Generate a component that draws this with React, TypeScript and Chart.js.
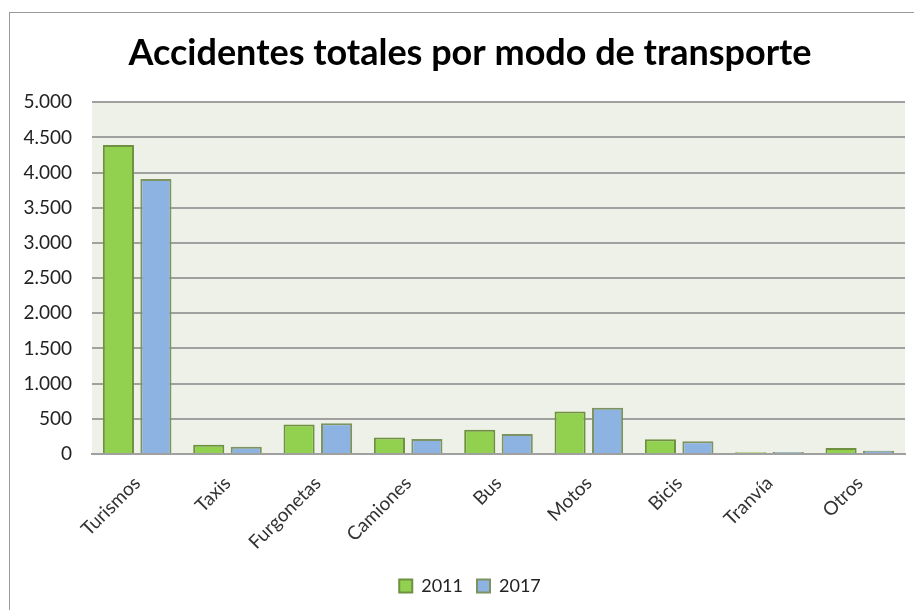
import React, { useEffect, useRef } from "react";
import { Chart, registerables } from "chart.js";

Chart.register(...registerables);

const categories = ["Turismos", "Taxis", "Furgonetas", "Camiones", "Bus", "Motos", "Bicis", "Tranvía", "Otros"];
const series2011 = [4390, 133, 420, 233, 343, 604, 210, 25, 86];
const series2017 = [3910, 104, 437, 214, 286, 657, 181, 28, 47];
const yTicks = [0, 500, 1000, 1500, 2000, 2500, 3000, 3500, 4000, 4500, 5000];

const FONT = "Lato, 'Open Sans', sans-serif";

function fmt(n: number): string {
  if (n < 1000) return String(n);
  const th = Math.floor(n / 1000);
  const rest = String(n % 1000).padStart(3, "0");
  return th + "." + rest;
}

const bgPlugin = {
  id: "plotBg",
  beforeDraw(chart: any) {
    const { ctx, chartArea } = chart;
    if (!chartArea) return;
    ctx.save();
    ctx.fillStyle = "#eef1e8";
    ctx.fillRect(chartArea.left, chartArea.top, chartArea.right - chartArea.left, chartArea.bottom - chartArea.top);
    ctx.restore();
  },
};

export default function App() {
  const ref = useRef<HTMLCanvasElement | null>(null);
  useEffect(() => {
    if (!ref.current) return;
    const chart = new Chart(ref.current, {
      type: "bar",
      data: {
        labels: categories,
        datasets: [
          {
            label: "2011",
            data: series2011,
            backgroundColor: "#92d050",
            borderColor: "#6f913f",
            borderWidth: 2,
            categoryPercentage: 0.83,
            barPercentage: 0.83,
          },
          {
            label: "2017",
            data: series2017,
            backgroundColor: "#8db3e2",
            borderColor: "#7d9460",
            borderWidth: 2,
            categoryPercentage: 0.83,
            barPercentage: 0.83,
          },
        ],
      },
      options: {
        animation: false,
        responsive: false,
        maintainAspectRatio: false,
        layout: { padding: { left: 0, right: 0, top: 0, bottom: 6 } },
        plugins: {
          title: {
            display: true,
            text: "Accidentes totales por modo de transporte",
            color: "#000",
            font: { family: FONT, size: 36, weight: "bold" },
            padding: { top: 19, bottom: 27 },
          },
          legend: {
            position: "bottom",
            labels: {
              color: "#222",
              font: { family: FONT, size: 18 },
              boxWidth: 13,
              boxHeight: 13,
              padding: 14,
            },
          },
          tooltip: { enabled: false },
        },
        scales: {
          x: {
            afterFit(scale: any) {
              scale.height = 109;
            },
            grid: { display: false, drawTicks: false },
            border: { display: true, color: "#a0a0a0", width: 2 },
            ticks: {
              color: "#333",
              font: { family: FONT, size: 19 },
              maxRotation: 45,
              minRotation: 45,
              padding: 18,
            },
          },
          y: {
            min: 0,
            max: 5000,
            afterBuildTicks(scale: any) {
              scale.ticks = yTicks.map((v) => ({ value: v }));
            },
            afterFit(scale: any) {
              scale.width = 82;
            },
            grid: { color: "#a0a0a0", lineWidth: 2, drawTicks: false },
            border: { display: false },
            ticks: {
              color: "#222",
              font: { family: FONT, size: 19 },
              padding: 20,
              callback: (v: any) => fmt(Number(v)),
            },
          },
          yRight: {
            position: "right",
            display: true,
            min: 0,
            max: 5000,
            afterFit(scale: any) {
              scale.width = 25;
            },
            grid: { display: false, drawTicks: false },
            border: { display: false },
            ticks: { display: false },
          },
        },
      },
      plugins: [bgPlugin],
    });
    return () => chart.destroy();
  }, []);

  return (
    <div
      style={{
        position: "fixed",
        left: 9,
        top: 12,
        width: 920,
        height: 610,
        borderLeft: "1px solid #9a9a9a",
        borderTop: "1px solid #9a9a9a",
        background: "#fff",
      }}
    >
      <canvas ref={ref} width={920} height={598} style={{ display: "block" }} />
    </div>
  );
}
